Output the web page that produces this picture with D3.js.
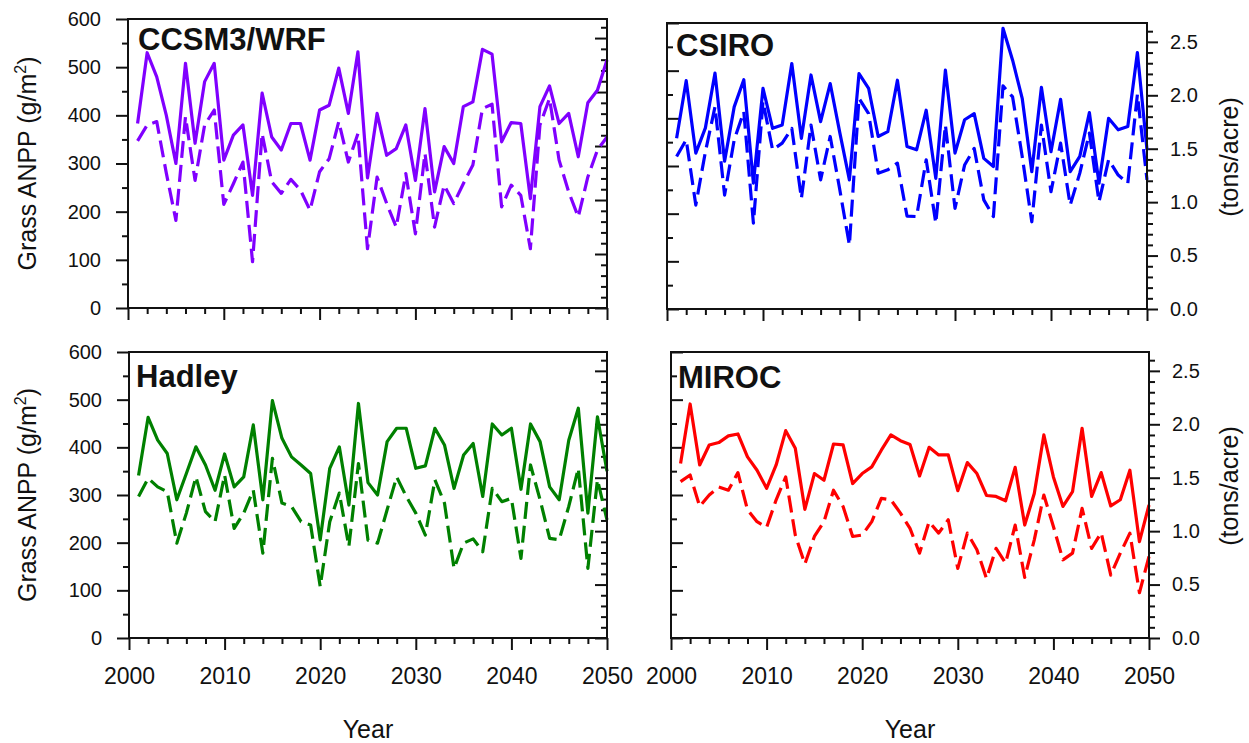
<!DOCTYPE html>
<html>
<head>
<meta charset="utf-8">
<script src="https://cdn.jsdelivr.net/npm/d3@7"></script>
<style>
  body { margin: 0; background: #fff; }
  text { font-family: "Liberation Sans", Arial, sans-serif; fill: #111; }
</style>
</head>
<body>
<svg id="chart" width="1249" height="743"></svg>
<script>
// Annual grass ANPP (g/m2), 2001-2050, for four climate model runs.
// Solid = first scenario, dashed = second scenario.
const years = [2001,2002,2003,2004,2005,2006,2007,2008,2009,2010,
               2011,2012,2013,2014,2015,2016,2017,2018,2019,2020,
               2021,2022,2023,2024,2025,2026,2027,2028,2029,2030,
               2031,2032,2033,2034,2035,2036,2037,2038,2039,2040,
               2041,2042,2043,2044,2045,2046,2047,2048,2049,2050];

const ccsmSolid  = [383,530,480,400,300,508,342,470,508,307, 359,380,234,446,355,328,383,383,307,411,
                    421,498,404,532,270, 404,317,331,380,265,414,241,335,300,418, 428,537,527,345,385,383,227,418,461,383,
                    404,314,426,452,515];
const ccsmDashed = [347,380,387,280,182,397,265,380,411,215, 258,303,96,362,262,238,267,245,203,283,
                    310,387,303,362,123, 272,217,168,279,154,321,168,255,217,258, 297,414,423,210,255,234,123,380,435,307,
                    241,189,272,328,355];

const csiroSolid  = [358,479,327,380,495,310,424,481,264,463, 379,386,515,358,491,393,473,370,271,494,
                     463,362,372,480,341, 334,417,274,501,327,397,410,316,299,589, 522,442,288,465,330,440,288,320,412,264,
                     400,376,383,538,334];
const csiroDashed = [320,355,218,330,424,239,355,414,180,435, 334,348,379,232,386,271,362,250,134,442,
                     410,285,292,306,195, 194,313,180,386,211,302,337,229,194,468, 445,320,183,386,246,348,218,285,369,225,
                     313,281,264,450,271];

const hadleySolid  = [341,463,415,387,290,345,401,363,310,386, 317,338,447,290,498,419,380,363,345,206,
                      356,401,279,492,326, 300,412,440,440,356,361,440,405,314,384, 408,297,449,426,440,312,449,412,317,290,
                      415,482,262,464,350];
const hadleyDashed = [297,335,317,307,199,262,338,265,244,342, 230,262,310,178,377,283,276,244,237,108,
                      244,304,192,366,205, 199,269,338,297,262,216,332,283,146,199, 208,181,314,286,293,167,363,290,209,206,
                      276,356,146,332,248];

const mirocSolid  = [366,491,363,405,410,424,428,380,352,314, 363,435,398,270,345,331,407,405,324,345,
                     359,394,426,414,406, 340,400,384,384,309,368,345,299,297,288, 358,237,303,426,338,276,307,440,297,347,
                     277,290,352,202,279];
const mirocDashed = [328,342,276,300,317,310,347,269,244,232, 290,338,216,155,213,244,310,276,213,216,
                     244,293,290,262,230, 178,244,220,248,146,220,185,125,188,157, 237,127,206,300,234,164,178,272,188,221,
                     132,178,220,95,171];

// Tick labels
const xTickYears   = [2000, 2010, 2020, 2030, 2040, 2050];
const anppTicks    = [0, 100, 200, 300, 400, 500, 600];
const tonTicks     = [0.0, 0.5, 1.0, 1.5, 2.0, 2.5];

const modelNames  = ["CCSM3/WRF", "CSIRO", "Hadley", "MIROC"];
const modelColors = ["#8000ff", "#0000ff", "#008000", "#ff0000"];

// 1 short ton per acre expressed in g/m2
const G_PER_TON_ACRE = 224.17;

const svg = d3.select("#chart");

const layout = [
  { left: 128, right: 607,  top: 19,  bottom: 308, col: 0, row: 0, tx: 138, ty: 50 },
  { left: 667, right: 1147, top: 23,  bottom: 309, col: 1, row: 0, tx: 676, ty: 56 },
  { left: 129, right: 607,  top: 352, bottom: 638, col: 0, row: 1, tx: 136, ty: 387 },
  { left: 671, right: 1149, top: 352, bottom: 638, col: 1, row: 1, tx: 678, ty: 388 }
];
const series = [
  [ccsmSolid, ccsmDashed], [csiroSolid, csiroDashed],
  [hadleySolid, hadleyDashed], [mirocSolid, mirocDashed]
];

const minorYears = d3.range(2000, 2051, 2).filter(v => v % 10 !== 0);
const minorAnpp  = d3.range(50, 600, 100);
const minorTons  = d3.range(0, 27).map(i => i / 10).filter(v => Math.round(v * 10) % 5 !== 0);

function styleAxis(g) {
  g.select(".domain").remove();
  g.selectAll(".tick line").attr("stroke", "#111").attr("stroke-width", 2);
}

layout.forEach((p, i) => {
  const color = modelColors[i];
  const x  = d3.scaleLinear().domain([2000, 2050]).range([p.left, p.right]);
  const y  = d3.scaleLinear().domain([0, 600]).range([p.bottom, p.top]);
  const yt = d3.scaleLinear().domain([0, 600 / G_PER_TON_ACRE]).range([p.bottom, p.top]);
  const g = svg.append("g");

  // bottom axis: years
  g.append("g").attr("transform", `translate(0,${p.bottom})`)
    .call(d3.axisBottom(x).tickValues(minorYears).tickSize(6).tickFormat(""))
    .call(styleAxis);
  const xa = g.append("g").attr("transform", `translate(0,${p.bottom})`)
    .call(d3.axisBottom(x).tickValues(xTickYears).tickSize(12).tickPadding(18)
      .tickFormat(p.row === 1 ? d3.format("d") : ""))
    .call(styleAxis);
  xa.selectAll("text").style("font-size", "23px").attr("fill", "#111");

  // left side: g/m2
  if (p.col === 0) {
    g.append("g").attr("transform", `translate(${p.left},0)`)
      .call(d3.axisLeft(y).tickValues(minorAnpp).tickSize(6).tickFormat(""))
      .call(styleAxis);
    const ya = g.append("g").attr("transform", `translate(${p.left},0)`)
      .call(d3.axisLeft(y).tickValues(anppTicks).tickSize(12).tickPadding(15).tickFormat(d3.format("d")))
      .call(styleAxis);
    ya.selectAll("text").style("font-size", "20px").attr("fill", "#111");
  } else {
    g.append("g").attr("transform", `translate(${p.left},0)`)
      .call(d3.axisRight(y).tickValues(minorAnpp).tickSize(6).tickFormat(""))
      .call(styleAxis);
    g.append("g").attr("transform", `translate(${p.left},0)`)
      .call(d3.axisRight(y).tickValues(anppTicks).tickSize(12).tickFormat(""))
      .call(styleAxis);
  }

  // right side: tons/acre
  if (p.col === 1) {
    g.append("g").attr("transform", `translate(${p.right},0)`)
      .call(d3.axisRight(yt).tickValues(minorTons).tickSize(6).tickFormat(""))
      .call(styleAxis);
    const ra = g.append("g").attr("transform", `translate(${p.right},0)`)
      .call(d3.axisRight(yt).tickValues(tonTicks).tickSize(11).tickPadding(12).tickFormat(d3.format(".1f")))
      .call(styleAxis);
    ra.selectAll("text").style("font-size", "20px").attr("fill", "#111");
  } else {
    g.append("g").attr("transform", `translate(${p.right},0)`)
      .call(d3.axisLeft(yt).tickValues(minorTons).tickSize(6).tickFormat(""))
      .call(styleAxis);
    g.append("g").attr("transform", `translate(${p.right},0)`)
      .call(d3.axisLeft(yt).tickValues(tonTicks).tickSize(12).tickFormat(""))
      .call(styleAxis);
  }

  // series lines
  const line = d3.line().x(d => x(d[0])).y(d => y(d[1]));
  const [solid, dashed] = series[i];
  g.append("path").datum(d3.zip(years, dashed))
    .attr("d", line).attr("fill", "none").attr("stroke", color)
    .attr("stroke-width", 3.2).attr("stroke-dasharray", "17,7")
    .attr("stroke-linejoin", "round");
  g.append("path").datum(d3.zip(years, solid))
    .attr("d", line).attr("fill", "none").attr("stroke", color)
    .attr("stroke-width", 3.2).attr("stroke-linejoin", "round");

  // frame
  g.append("rect")
    .attr("x", p.left).attr("y", p.top)
    .attr("width", p.right - p.left).attr("height", p.bottom - p.top)
    .attr("fill", "none").attr("stroke", "#111").attr("stroke-width", 2);

  // model name
  g.append("text").attr("x", p.tx).attr("y", p.ty)
    .style("font-size", "31px").style("font-weight", "bold")
    .text(modelNames[i]);

  const cy = (p.top + p.bottom) / 2;
  if (p.col === 0) {
    const t = g.append("text")
      .attr("transform", `translate(36,${cy}) rotate(-90)`)
      .attr("text-anchor", "middle").style("font-size", "25px");
    t.append("tspan").text("Grass ANPP (g/m");
    t.append("tspan").attr("dy", -10).style("font-size", "16px").text("2");
    t.append("tspan").attr("dy", 10).text(")");
  } else {
    g.append("text")
      .attr("transform", `translate(1238,${cy - 9}) rotate(-90)`)
      .attr("text-anchor", "middle").style("font-size", "25px")
      .text("(tons/acre)");
  }

  if (p.row === 1) {
    g.append("text")
      .attr("x", (p.left + p.right) / 2).attr("y", 738)
      .attr("text-anchor", "middle").style("font-size", "25px")
      .text("Year");
  }
});
</script>
</body>
</html>
